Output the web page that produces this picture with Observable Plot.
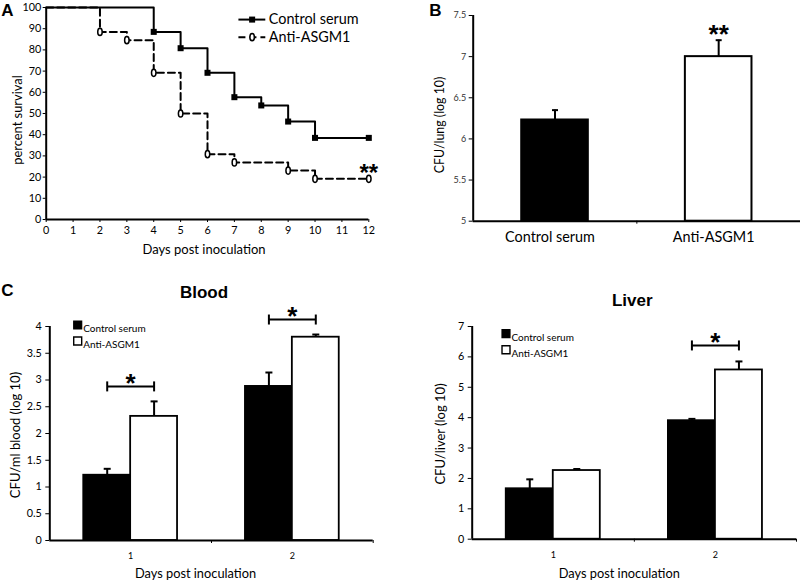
<!DOCTYPE html>
<html><head><meta charset="utf-8">
<script src="https://cdn.jsdelivr.net/npm/d3@7"></script>
<script src="https://cdn.jsdelivr.net/npm/@observablehq/plot@0.6"></script>
<style>
body{margin:0;background:#fff;}
#root{position:relative;width:800px;height:580px;overflow:hidden;font-family:Lato,sans-serif;background:#fff;}
#root svg{position:absolute;overflow:visible;}
</style></head><body><div id="root"></div>
<script>
// ---------- DATA ----------
// Panel A: Kaplan-Meier survival
const controlDays = [0, 4, 5, 6, 7, 8, 9, 10, 12];
const controlSurvival = [100, 88.5, 80.8, 69.2, 57.7, 53.8, 46.2, 38.5, 38.5];
const antiDays = [0, 2, 3, 4, 5, 6, 7, 9, 10, 12];
const antiSurvival = [100, 88.5, 84.6, 69.2, 50, 30.8, 26.9, 23.1, 19.2, 19.2];
const seriesNames = ["Control serum", "Anti-ASGM1"];
const survivalYTicks = [0, 10, 20, 30, 40, 50, 60, 70, 80, 90, 100];
const survivalXTicks = [0, 1, 2, 3, 4, 5, 6, 7, 8, 9, 10, 11, 12];
const survivalSig = "**";

// Panel B: lung CFU
const lungGroups = ["Control serum", "Anti-ASGM1"];
const lungMean = [6.23, 7.0];
const lungErr = [0.12, 0.2];
const lungSig = ["", "**"];
const lungTicks = [5, 5.5, 6, 6.5, 7, 7.5];

// Panel C: blood and liver CFU
const dayLabels = ["1", "2"];
const bloodControl = [1.22, 2.88];
const bloodControlErr = [0.12, 0.26];
const bloodAnti = [2.32, 3.8];
const bloodAntiErr = [0.28, 0.05];
const bloodSig = ["*", "*"];
const bloodTicks = [0, 0.5, 1, 1.5, 2, 2.5, 3, 3.5, 4];

const liverControl = [1.66, 3.9];
const liverControlErr = [0.31, 0.06];
const liverAnti = [2.26, 5.57];
const liverAntiErr = [0.05, 0.28];
const liverSig = ["", "*"];
const liverTicks = [0, 1, 2, 3, 4, 5, 6, 7];

// ---------- HELPERS ----------
const root = document.getElementById("root");
const FONT = "Lato, sans-serif";
const BOLD = "'Liberation Sans', Arial, sans-serif";

function label(text, cx, cy, {size = 13, weight = "normal", family = FONT, rotate = 0} = {}) {
  const d = document.createElement("div");
  d.textContent = text;
  Object.assign(d.style, {
    position: "absolute", left: cx + "px", top: cy + "px",
    transform: `translate(-50%,-50%) rotate(${rotate}deg)`,
    fontSize: size + "px", fontWeight: weight, fontFamily: family,
    whiteSpace: "nowrap", lineHeight: "1", color: "#000"
  });
  root.appendChild(d);
}
function place(svg, left, top) {
  svg.style.left = left + "px";
  svg.style.top = top + "px";
  root.appendChild(svg);
}
// custom symbols
const ellipseSym = {draw(ctx, size) {
  const r = Math.sqrt(size / Math.PI), rx = r * 0.62, ry = r, k = 0.5523;
  ctx.moveTo(0, -ry);
  ctx.bezierCurveTo(k * rx, -ry, rx, -k * ry, rx, 0);
  ctx.bezierCurveTo(rx, k * ry, k * rx, ry, 0, ry);
  ctx.bezierCurveTo(-k * rx, ry, -rx, k * ry, -rx, 0);
  ctx.bezierCurveTo(-rx, -k * ry, -k * rx, -ry, 0, -ry);
  ctx.closePath();
}};
const hLineSym = {draw(ctx, size) { const r = Math.sqrt(size / Math.PI); ctx.moveTo(-r, 0); ctx.lineTo(r, 0); }};
const vLineSym = {draw(ctx, size) { const r = Math.sqrt(size / Math.PI); ctx.moveTo(0, -r); ctx.lineTo(0, r); }};

// ---------- PANEL A ----------
const controlRows = controlDays.map((d, i) => ({day: d, s: controlSurvival[i]}));
const antiRows = antiDays.map((d, i) => ({day: d, s: antiSurvival[i]}));
const lastAnti = antiRows[antiRows.length - 1];

const plotA = Plot.plot({
  width: 400, height: 270,
  marginLeft: 45.7, marginRight: 31.7, marginTop: 7, marginBottom: 51,
  x: {domain: [0, 12], axis: null},
  y: {domain: [0, 100], axis: null},
  style: {fontFamily: FONT, fontSize: "10.8px", color: "#000", background: "transparent"},
  marks: [
    Plot.axisY({ticks: survivalYTicks, tickSize: 3, tickPadding: 2, label: null, tickFormat: d => String(d)}),
    Plot.axisX({ticks: survivalXTicks, tickSize: 3, tickPadding: 3.5, label: null, tickFormat: d => String(d)}),
    Plot.line(antiRows, {x: "day", y: "s", curve: "step-after", stroke: "#000", strokeWidth: 2, strokeDasharray: "7,4"}),
    Plot.line(controlRows, {x: "day", y: "s", curve: "step-after", stroke: "#000", strokeWidth: 2}),
    Plot.ruleX([0], {stroke: "#000", strokeWidth: 2}),
    Plot.ruleY([0], {stroke: "#000", strokeWidth: 2}),
    Plot.dot(controlRows.slice(1), {x: "day", y: "s", symbol: "square", r: 3.4, fill: "#000"}),
    Plot.dot(antiRows.slice(1), {x: "day", y: "s", symbol: ellipseSym, r: 3.6, fill: "#fff", stroke: "#000", strokeWidth: 1.5}),
    Plot.text([lastAnti], {x: "day", y: "s", text: () => survivalSig, dy: -5.5, fontSize: 24, fontWeight: "bold", fontFamily: BOLD}),
    // legend
    Plot.link([seriesNames[0]], {x1: 7.15, x2: 8.15, y1: 94.3, y2: 94.3, stroke: "#000", strokeWidth: 2}),
    Plot.dot([seriesNames[0]], {x: 7.66, y: 94.3, symbol: "square", r: 3.4, fill: "#000"}),
    Plot.link([seriesNames[1]], {x1: 7.15, x2: 8.15, y1: 86, y2: 86, stroke: "#000", strokeWidth: 2, strokeDasharray: "7,4"}),
    Plot.dot([seriesNames[1]], {x: 7.66, y: 86, symbol: ellipseSym, r: 3.6, fill: "#fff", stroke: "#000", strokeWidth: 1.5}),
    Plot.text([seriesNames[0]], {x: 8.28, y: 94.3, text: d => d, textAnchor: "start", fontSize: 14.4}),
    Plot.text([seriesNames[1]], {x: 8.28, y: 86, text: d => d, textAnchor: "start", fontSize: 14.4})
  ]
});
place(plotA, 0, 0);

// ---------- PANEL B ----------
const lungRows = lungGroups.map((g, i) => ({i, g, mean: lungMean[i], top: lungMean[i] + lungErr[i], sig: lungSig[i]}));
const LUNG_HALF = 0.2035;
const plotB = Plot.plot({
  width: 400, height: 270,
  marginLeft: 72.7, marginRight: 0, marginTop: 15, marginBottom: 49.3,
  x: {domain: [0, 2], axis: null},
  y: {domain: [5, 7.5], axis: null},
  color: {domain: lungGroups, range: ["#000", "#fff"]},
  style: {fontFamily: FONT, fontSize: "9px", color: "#000", background: "transparent"},
  marks: [
    Plot.axisY({ticks: lungTicks, tickSize: 4, tickPadding: 3, label: null, tickFormat: d => String(d), fill: "#333"}),
    Plot.axisX({ticks: [1], tickSize: 3, label: null, tickFormat: () => ""}),
    Plot.axisX({ticks: [0.5, 1.5], tickSize: 0, tickPadding: 11, dx: -5, label: null, fontSize: 14.4, tickFormat: d => lungGroups[Math.floor(d)]}),
    Plot.ruleX(lungRows, {x: d => d.i + 0.5, y1: "mean", y2: "top", stroke: "#000", strokeWidth: 2}),
    Plot.dot(lungRows, {x: d => d.i + 0.5, y: "top", symbol: hLineSym, r: 3, stroke: "#000", strokeWidth: 2}),
    Plot.rectY(lungRows, {x1: d => d.i + 0.5 - LUNG_HALF, x2: d => d.i + 0.5 + LUNG_HALF, y1: 5, y2: "mean", fill: "g", stroke: "#000", strokeWidth: 2}),
    Plot.ruleX([0], {stroke: "#000", strokeWidth: 2}),
    Plot.ruleY([5], {stroke: "#000", strokeWidth: 2}),
    Plot.text(lungRows.filter(d => d.sig), {x: d => d.i + 0.5, y: "top", text: "sig", dy: -6, fontSize: 26, fontWeight: "bold", fontFamily: BOLD})
  ]
});
place(plotB, 400, 0);

// ---------- PANEL C ----------
const BAR_W = 0.29;
function cfuPanel({control, controlErr, anti, antiErr, sig, ticks, ymax, margins, legendPos, bracketGap}) {
  const rows = [];
  dayLabels.forEach((d, i) => {
    rows.push({i, g: seriesNames[0], c: i + 0.5 - BAR_W / 2, v: control[i], top: control[i] + controlErr[i]});
    rows.push({i, g: seriesNames[1], c: i + 0.5 + BAR_W / 2, v: anti[i], top: anti[i] + antiErr[i]});
  });
  const sigRows = dayLabels.map((d, i) => ({
    i, s: sig[i],
    x1: i + 0.5 - BAR_W / 2, x2: i + 0.5 + BAR_W / 2, xm: i + 0.5,
    top: Math.max(control[i] + controlErr[i], anti[i] + antiErr[i])
  })).filter(d => d.s);
  const ends = sigRows.flatMap(d => [{x: d.x1, top: d.top}, {x: d.x2, top: d.top}]);
  const [lx, ly] = legendPos;
  return Plot.plot({
    width: 400, height: 310, ...margins,
    x: {domain: [0, 2], axis: null},
    y: {domain: [0, ymax], axis: null},
    color: {domain: seriesNames, range: ["#000", "#fff"]},
    style: {fontFamily: FONT, fontSize: "10.8px", color: "#000", background: "transparent"},
    marks: [
      Plot.axisY({ticks, tickSize: 4, tickPadding: 4, label: null, tickFormat: d => String(d)}),
      Plot.axisX({ticks: [1, 2], tickSize: 3, label: null, tickFormat: () => ""}),
      Plot.axisX({ticks: [0.5, 1.5], tickSize: 0, tickPadding: 12, label: null, fontSize: 9, tickFormat: d => dayLabels[Math.floor(d)]}),
      Plot.ruleX(rows, {x: "c", y1: "v", y2: "top", stroke: "#000", strokeWidth: 2}),
      Plot.dot(rows, {x: "c", y: "top", symbol: hLineSym, r: 3.5, stroke: "#000", strokeWidth: 2}),
      Plot.rectY(rows, {x1: d => d.c - BAR_W / 2, x2: d => d.c + BAR_W / 2, y1: 0, y2: "v", fill: "g", stroke: "#000", strokeWidth: 1.8}),
      Plot.ruleX([0], {stroke: "#000", strokeWidth: 2}),
      Plot.ruleY([0], {stroke: "#000", strokeWidth: 2}),
      Plot.link(sigRows, {x1: "x1", x2: "x2", y1: "top", y2: "top", dy: -bracketGap, stroke: "#000", strokeWidth: 2}),
      Plot.dot(ends, {x: "x", y: "top", dy: -bracketGap, symbol: vLineSym, r: 5, stroke: "#000", strokeWidth: 2}),
      Plot.text(sigRows, {x: "xm", y: "top", text: "s", dy: -bracketGap - 2.5, fontSize: 26, fontWeight: "bold", fontFamily: BOLD}),
      // legend
      Plot.dot([seriesNames[0]], {frameAnchor: "top-left", dx: lx, dy: ly, symbol: "square", r: 4.5, fill: "#000", stroke: "#000", strokeWidth: 1.2}),
      Plot.dot([seriesNames[1]], {frameAnchor: "top-left", dx: lx, dy: ly + 16, symbol: "square", r: 4.5, fill: "#fff", stroke: "#000", strokeWidth: 1.4}),
      Plot.text([seriesNames[0]], {frameAnchor: "top-left", dx: lx + 5.5, dy: ly, text: d => d, textAnchor: "start", fontSize: 10}),
      Plot.text([seriesNames[1]], {frameAnchor: "top-left", dx: lx + 5.5, dy: ly + 16, text: d => d, textAnchor: "start", fontSize: 10})
    ]
  });
}
const plotBlood = cfuPanel({
  control: bloodControl, controlErr: bloodControlErr, anti: bloodAnti, antiErr: bloodAntiErr,
  sig: bloodSig, ticks: bloodTicks, ymax: 4,
  margins: {marginLeft: 49.3, marginRight: 27.3, marginTop: 56, marginBottom: 40},
  legendPos: [27.9, -1.5], bracketGap: 15
});
place(plotBlood, 0, 270);
const plotLiver = cfuPanel({
  control: liverControl, controlErr: liverControlErr, anti: liverAnti, antiErr: liverAntiErr,
  sig: liverSig, ticks: liverTicks, ymax: 7,
  margins: {marginLeft: 71.7, marginRight: 4, marginTop: 56, marginBottom: 41.3},
  legendPos: [33.8, 7.2], bracketGap: 16
});
place(plotLiver, 400, 270);

// ---------- TEXT LABELS ----------
label("A", 7.5, 9.5, {size: 17, weight: "bold", family: BOLD});
label("B", 435.5, 9.5, {size: 17, weight: "bold", family: BOLD});
label("C", 7.5, 289.5, {size: 17, weight: "bold", family: BOLD});
label("percent survival", 16.7, 120, {size: 12.9, rotate: -90});
label("Days post inoculation", 204, 249, {size: 13});
label("CFU/lung (log 10)", 440, 125, {size: 12.4, rotate: -90});
label("Blood", 204, 291.7, {size: 17, weight: "bold", family: BOLD});
label("Liver", 632.3, 300, {size: 17, weight: "bold", family: BOLD});
label("CFU/ml blood (log 10)", 15, 435, {size: 13, rotate: -90});
label("CFU/liver (log 10)", 440, 434, {size: 13, rotate: -90});
label("Days post inoculation", 195.5, 573, {size: 12.8});
label("Days post inoculation", 619.3, 573, {size: 12.8});
</script></body></html>
